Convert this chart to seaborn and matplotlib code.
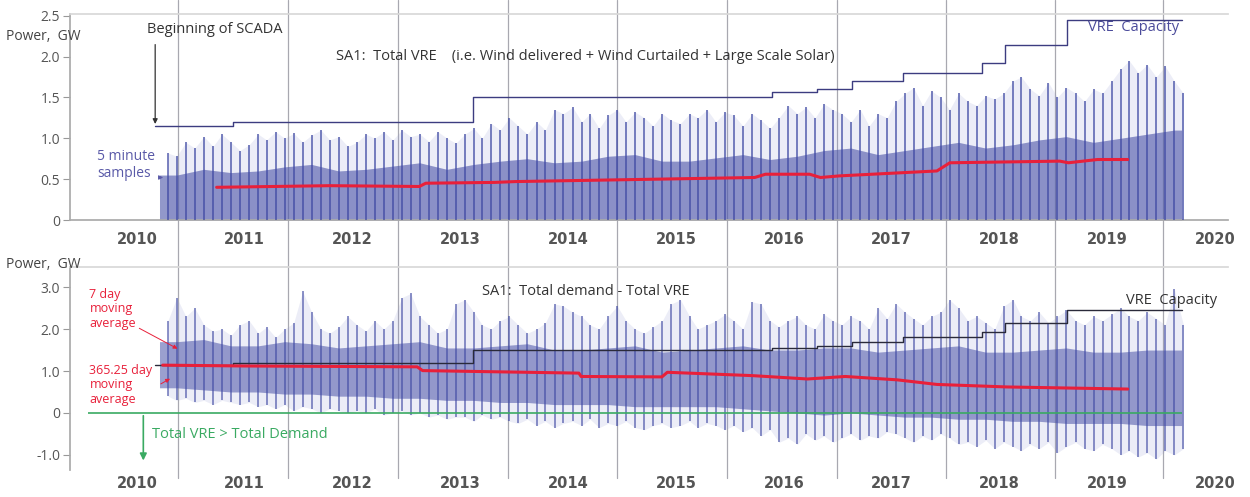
import matplotlib
matplotlib.use("Agg")
import matplotlib.pyplot as plt
import seaborn as sns
import pandas as pd
import numpy as np

# ---- data ----
# monthly 5-minute sample envelope, Apr 2010 .. Sep 2019
month_first = "2010-04"
month_last = "2019-09"

# SA1 total VRE, monthly peak (GW)
vre_peak = [0.82, 0.78, 0.95, 0.88, 1.02, 0.90, 1.05, 0.95, 0.85,
            0.92, 1.05, 0.98, 1.08, 1.00, 1.06, 0.95, 1.04, 1.10, 0.98, 1.02, 0.90,
            0.95, 1.05, 1.00, 1.08, 0.98, 1.10, 1.02, 1.05, 0.96, 1.08, 1.00, 0.94,
            1.05, 1.12, 1.00, 1.18, 1.10, 1.25, 1.15, 1.05, 1.20, 1.10, 1.35, 1.30,
            1.38, 1.20, 1.30, 1.12, 1.28, 1.35, 1.20, 1.32, 1.25, 1.15, 1.30, 1.22,
            1.18, 1.30, 1.25, 1.35, 1.20, 1.32, 1.28, 1.15, 1.30, 1.22, 1.12, 1.25,
            1.40, 1.30, 1.38, 1.25, 1.42, 1.35, 1.30, 1.20, 1.35, 1.15, 1.30, 1.25,
            1.45, 1.55, 1.62, 1.40, 1.58, 1.50, 1.35, 1.55, 1.45, 1.40, 1.52, 1.48,
            1.55, 1.70, 1.75, 1.60, 1.52, 1.68, 1.50, 1.62, 1.55, 1.45, 1.60, 1.55,
            1.70, 1.85, 1.95, 1.80, 1.90, 1.75, 1.88, 1.70, 1.55]
vre_floor = 0.0

# SA1 total VRE, quarterly upper edge of the dense band (GW), 2010Q2 .. 2019Q3
vre_core = [0.55, 0.62, 0.58,
            0.60, 0.65, 0.68, 0.60,
            0.62, 0.66, 0.70, 0.62,
            0.68, 0.72, 0.75, 0.70,
            0.72, 0.78, 0.80, 0.72,
            0.72, 0.76, 0.80, 0.74,
            0.78, 0.85, 0.88, 0.80,
            0.85, 0.90, 0.95, 0.88,
            0.92, 0.98, 1.02, 0.95,
            1.00, 1.05, 1.10]

# SA1 total demand - total VRE, monthly peak and low (GW)
net_peak = [2.20, 2.75, 2.30, 2.50, 2.10, 1.95, 2.00, 1.85, 2.10,
            2.20, 1.90, 2.05, 1.80, 2.00, 2.15, 2.90, 2.40, 2.00, 1.90, 2.05, 2.30,
            2.10, 1.95, 2.20, 2.00, 2.20, 2.75, 2.85, 2.30, 2.10, 1.90, 2.00, 2.60,
            2.70, 2.40, 2.10, 2.00, 2.20, 2.30, 2.10, 1.90, 2.00, 2.15, 2.60, 2.55,
            2.40, 2.30, 2.10, 2.00, 2.30, 2.55, 2.20, 2.00, 1.90, 2.05, 2.20, 2.60,
            2.70, 2.30, 2.00, 2.10, 2.20, 2.35, 2.20, 2.00, 2.65, 2.60, 2.20, 2.05,
            2.20, 2.30, 2.10, 2.00, 2.35, 2.20, 2.10, 2.30, 2.20, 2.00, 2.50, 2.25,
            2.60, 2.40, 2.25, 2.10, 2.30, 2.40, 2.70, 2.50, 2.20, 2.30, 2.15, 2.00,
            2.55, 2.70, 2.30, 2.20, 2.40, 2.15, 2.30, 2.45, 2.20, 2.10, 2.30, 2.20,
            2.35, 2.50, 2.30, 2.20, 2.40, 2.25, 2.10, 2.95, 2.10]
net_low = [0.40, 0.30, 0.35, 0.25, 0.30, 0.20, 0.30, 0.25, 0.20,
           0.25, 0.15, 0.20, 0.10, 0.20, 0.05, 0.15, 0.10, 0.00, 0.10, 0.05, 0.00,
           0.05, 0.00, 0.10, -0.05, 0.00, 0.05, -0.05, 0.00, -0.10, -0.05, -0.15, -0.10,
           -0.10, -0.20, -0.05, -0.15, -0.10, -0.20, -0.25, -0.15, -0.30, -0.20, -0.35, -0.25,
           -0.20, -0.30, -0.15, -0.35, -0.25, -0.30, -0.20, -0.35, -0.40, -0.30, -0.25, -0.35,
           -0.30, -0.20, -0.35, -0.25, -0.30, -0.40, -0.30, -0.45, -0.35, -0.55, -0.40, -0.70,
           -0.60, -0.75, -0.50, -0.65, -0.55, -0.70, -0.60, -0.50, -0.65, -0.55, -0.60, -0.45,
           -0.50, -0.60, -0.70, -0.55, -0.65, -0.50, -0.60, -0.75, -0.70, -0.80, -0.65, -0.85,
           -0.70, -0.80, -0.90, -0.75, -0.85, -0.70, -0.95, -0.80, -0.70, -0.85, -0.90, -0.75,
           -0.85, -1.00, -0.90, -1.05, -0.95, -1.10, -0.90, -1.00, -0.85]

# quarterly dense band of demand - VRE (GW)
net_core_lo = [0.60, 0.55, 0.50,
               0.50, 0.45, 0.45, 0.40,
               0.40, 0.35, 0.35, 0.30,
               0.30, 0.25, 0.25, 0.20,
               0.20, 0.20, 0.15, 0.15,
               0.15, 0.15, 0.10, 0.05,
               0.00, -0.05, 0.00, -0.05,
               -0.10, -0.10, -0.15, -0.15,
               -0.20, -0.20, -0.25, -0.25,
               -0.25, -0.30, -0.30]
net_core_hi = [1.70, 1.75, 1.60,
               1.60, 1.70, 1.65, 1.55,
               1.60, 1.65, 1.70, 1.55,
               1.55, 1.60, 1.65, 1.50,
               1.50, 1.55, 1.60, 1.45,
               1.50, 1.55, 1.60, 1.50,
               1.50, 1.55, 1.55, 1.45,
               1.50, 1.55, 1.60, 1.45,
               1.45, 1.50, 1.55, 1.45,
               1.45, 1.50, 1.50]
data_start_year = 2010.21
data_end_year = 2019.69

# VRE capacity steps
cap_years = [2010.17, 2010.89, 2013.12, 2015.89, 2016.31, 2016.63, 2017.11,
             2017.84, 2018.05, 2018.63, 2019.69]
cap_gw = [1.15, 1.20, 1.50, 1.56, 1.60, 1.70, 1.80, 1.92, 2.14, 2.45, 2.45]

# 365.25 day moving averages
vre_avg_years = [2010.74, 2011.79, 2012.62, 2012.68, 2013.32, 2013.51, 2015.73,
                 2015.83, 2016.24, 2016.34, 2016.52, 2017.42, 2017.54, 2018.56,
                 2018.64, 2018.91, 2019.19]
vre_avg_gw = [0.40, 0.42, 0.41, 0.45, 0.46, 0.47, 0.52, 0.56, 0.56, 0.52, 0.54,
              0.60, 0.70, 0.72, 0.70, 0.74, 0.74]
net_avg_years = [2010.24, 2011.00, 2012.60, 2012.65, 2013.37, 2014.10, 2014.12,
                 2014.87, 2014.92, 2015.71, 2016.22, 2016.57, 2017.05, 2017.42,
                 2018.07, 2019.19]
net_avg_gw = [1.14, 1.12, 1.10, 1.01, 0.98, 0.95, 0.87, 0.86, 0.97, 0.89, 0.81,
              0.87, 0.79, 0.68, 0.62, 0.57]

year_labels = list(range(2010, 2021))
grid_years = [2010.38, 2011.40, 2012.42, 2013.44, 2014.45, 2015.47, 2016.49,
              2017.50, 2018.52, 2019.52]


def dec_year(periods):
    st = periods.start_time
    return np.asarray(st.year + (st.dayofyear - 1) / 365.25)


t_month = dec_year(pd.period_range(month_first, month_last, freq="M")) + 1 / 24
t_quarter = dec_year(pd.period_range("2010Q2", "2019Q3", freq="Q")) + 0.125
# band edges run from the first to the last sample
t_q = np.concatenate([[data_start_year], t_quarter, [data_end_year]])


def band(vals):
    return [vals[0]] + list(vals) + [vals[-1]]


sns.set_theme(style="white")
plt.rcParams["font.family"] = ["Open Sans", "DejaVu Sans"]

fig = plt.figure(figsize=(12.5, 4.97), dpi=100)
ax1 = fig.add_axes([70 / 1250, 1 - 220 / 497, 1158 / 1250, 206 / 497])
ax2 = fig.add_axes([70 / 1250, 1 - 470 / 497, 1158 / 1250, 203 / 497])

blue = "#3f49a3"
core_blue = "#4a53a8"
haze = "#8c94d0"
red = "#e8203a"
green = "#3aaa62"
txt_grey = "#444444"

# ---------- top panel: total VRE ----------
ax1.fill_between(t_month, vre_floor, vre_peak, color=haze, alpha=0.16, lw=0, zorder=2)
ax1.fill_between(t_q, 0, band(vre_core), color=core_blue, alpha=0.6, lw=0, zorder=2)
ax1.vlines(t_month, vre_floor, vre_peak, color=blue, lw=1.3, alpha=0.75, zorder=3)
sns.lineplot(x=cap_years, y=cap_gw, ax=ax1, drawstyle="steps-post",
             color="#3c3c80", lw=1.0, zorder=4)
sns.lineplot(x=vre_avg_years, y=vre_avg_gw, ax=ax1, color=red, lw=2.2, zorder=5)

ax1.set_xlim(2009.38, 2020.12)
ax1.set_ylim(0, 2.52)
ax1.set_yticks([0, 0.5, 1.0, 1.5, 2.0, 2.5])
ax1.set_yticklabels(["0", "0.5", "1.0", "1.5", "2.0", "2.5"])

ax1.text(2010.09, 2.33, "Beginning of SCADA", fontsize=10.5, color="#333333", va="center")
ax1.annotate("", xy=(2010.17, 1.14), xytext=(2010.17, 2.18),
             arrowprops=dict(arrowstyle="-|>", color="#333333", lw=0.9, mutation_scale=7))
ax1.text(2011.85, 2.0, "SA1:  Total VRE    (i.e. Wind delivered + Wind Curtailed + Large Scale Solar)",
         fontsize=10.5, color="#333333", va="center")
ax1.text(2018.82, 2.36, "VRE  Capacity", fontsize=10.5, color="#4b4b9b", va="center")
ax1.text(2009.63, 0.67, "5 minute\nsamples", fontsize=10, color="#5a5aa8", va="center",
         linespacing=1.15)
ax1.annotate("", xy=(2010.27, 0.52), xytext=(2010.19, 0.52),
             arrowprops=dict(arrowstyle="-|>", color="#5a5aa8", lw=0.8, mutation_scale=6))

# ---------- bottom panel: demand - VRE ----------
ax2.fill_between(t_month, net_low, net_peak, color=haze, alpha=0.16, lw=0, zorder=2)
ax2.fill_between(t_q, band(net_core_lo), band(net_core_hi),
                 color=core_blue, alpha=0.55, lw=0, zorder=2)
ax2.vlines(t_month, net_low, net_peak, color=blue, lw=1.2, alpha=0.7, zorder=3)
sns.lineplot(x=cap_years, y=cap_gw, ax=ax2, drawstyle="steps-post",
             color="#2a2a3a", lw=1.0, zorder=4)
sns.lineplot(x=net_avg_years, y=net_avg_gw, ax=ax2, color=red, lw=2.2, zorder=5)
ax2.hlines(0, 2009.55, data_end_year, color=green, lw=1.2, zorder=4)

ax2.set_xlim(2009.38, 2020.12)
ax2.set_ylim(-1.36, 3.48)
ax2.set_yticks([-1, 0, 1, 2, 3])
ax2.set_yticklabels(["-1.0", "0", "1.0", "2.0", "3.0"])

ax2.text(2009.56, 2.48, "7 day\nmoving\naverage", fontsize=9, color=red, va="center",
         linespacing=1.15)
ax2.annotate("", xy=(2010.40, 1.5), xytext=(2010.0, 2.05),
             arrowprops=dict(arrowstyle="-|>", color=red, lw=0.7, mutation_scale=6))
ax2.text(2009.56, 0.67, "365.25 day\nmoving\naverage", fontsize=9, color=red, va="center",
         linespacing=1.15)
ax2.annotate("", xy=(2010.33, 0.85), xytext=(2010.2, 0.66),
             arrowprops=dict(arrowstyle="-|>", color=red, lw=0.7, mutation_scale=6))
ax2.text(2013.2, 2.9, "SA1:  Total demand - Total VRE", fontsize=10.5, color="#333333",
         va="center")
ax2.text(2019.17, 2.69, "VRE  Capacity", fontsize=10.5, color="#333333", va="center")
ax2.annotate("", xy=(2010.06, -1.2), xytext=(2010.06, 0.0),
             arrowprops=dict(arrowstyle="-|>", color=green, lw=1.2, mutation_scale=10))
ax2.text(2010.14, -0.52, "Total VRE > Total Demand", fontsize=10.5, color=green, va="center")

fig.text(6 / 1250, 1 - 36 / 497, "Power,  GW", fontsize=10, color=txt_grey, va="center")
fig.text(6 / 1250, 1 - 265 / 497, "Power,  GW", fontsize=10, color=txt_grey, va="center")

# ---------- common styling ----------
for ax, pad, ymin, ymax in [(ax1, 9, -0.23, 1.07), (ax2, 4, -0.04, 1.0)]:
    ax.set_xlabel("")
    ax.set_ylabel("")
    ax.set_xticks(year_labels)
    ax.set_xticklabels([str(y) for y in year_labels], fontfamily="DejaVu Sans",
                       fontweight="bold", color="#555555")
    ax.tick_params(axis="x", length=0, pad=pad, labelsize=10.5)
    ax.tick_params(axis="y", left=True, length=5, width=0.8, color="#999999",
                   labelcolor="#555555", labelsize=10, pad=2)
    for gx in grid_years:
        ax.axvline(gx, ymin=ymin, ymax=ymax, color="#a8a8b0", lw=0.9, zorder=1,
                   clip_on=False)
    ax.spines["right"].set_visible(False)
    ax.spines["left"].set_color("#aaaaaa")
    ax.spines["top"].set_color("#d8d8d8")
    ax.set_facecolor("none")
    ax.grid(False)

ax1.spines["bottom"].set_color("#aaaaaa")
ax2.spines["bottom"].set_visible(False)

fig.savefig("out.png", dpi=100)
